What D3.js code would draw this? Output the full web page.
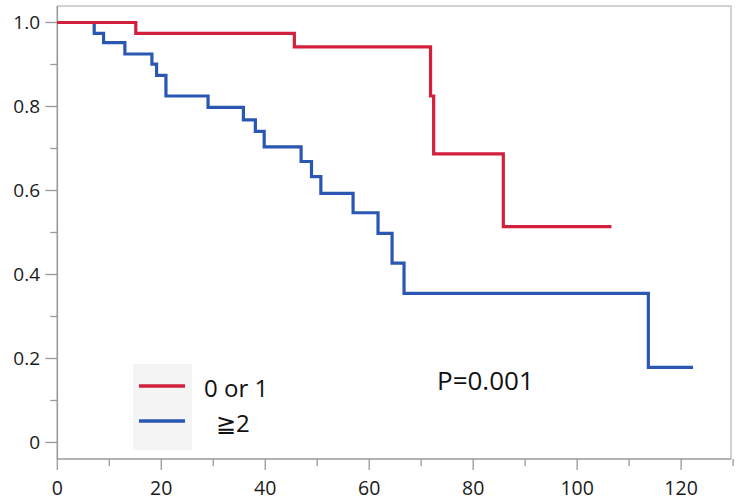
<!DOCTYPE html>
<html lang="en">
<head>
    <meta charset="UTF-8">
    <title>Survival curves</title>
    <style>
        body{margin:0;background:#fff;}
        svg{display:block;}
    </style>
    <script src="https://cdn.jsdelivr.net/npm/d3@7"></script>
</head>
<body>
<script>
    // step curve data
    const redTimes = [0, 15.1, 45.6, 71.8, 72.4, 85.8, 106.6]
    const redSurv  = [1, 0.974, 0.942, 0.825, 0.687, 0.514, 0.514]

    const blueTimes = [0, 7.1, 8.9, 13.0, 18.2, 19.1, 20.9, 29.0, 35.8, 38.1, 39.8, 46.9, 48.9, 50.7, 56.9, 61.7, 64.4, 66.7, 113.7, 122.3]
    const blueSurv  = [1, 0.974, 0.952, 0.925, 0.901, 0.874, 0.825, 0.798, 0.768, 0.741, 0.704, 0.669, 0.633, 0.593, 0.547, 0.498, 0.427, 0.355, 0.179, 0.179]

    const groupNames = ["0 or 1", "\u22672"]
    const groupColors = ["#d21f3c", "#2a57b2"]

    const xTicks = [0, 10, 20, 30, 40, 50, 60, 70, 80, 90, 100, 110, 120, 130]
    const yTicks = [0, 0.1, 0.2, 0.3, 0.4, 0.5, 0.6, 0.7, 0.8, 0.9, 1.0]
    const pText = "P=0.001"

    const width = 738, height = 502
    const mLeft = 57.3, mRight = 731, mTop = 6, mBottom = 459

    let svg = d3.select("body").append("svg")
        .attr("width", width).attr("height", height)

    let x = d3.scaleLinear().domain([0, 129.6]).range([mLeft, mRight])
    let y = d3.scaleLinear().domain([-0.0393, 1.0393]).range([mBottom, mTop])

    // frame top / right
    svg.append("path")
        .attr("d", `M${mLeft},${mTop}H${mRight}V${mBottom}`)
        .attr("fill", "none").attr("stroke", "#c4c4c4").attr("stroke-width", 1.5)

    // y axis
    let gy = svg.append("g")
    gy.selectAll("line").data(yTicks).enter().append("line")
        .attr("x1", (d, i) => i % 2 == 0 ? mLeft - 12 : mLeft - 7)
        .attr("x2", mLeft)
        .attr("y1", d => y(d)).attr("y2", d => y(d))
        .attr("stroke", "#9a9a9a").attr("stroke-width", 1.3)
    gy.selectAll("text").data(yTicks.filter((d, i) => i % 2 == 0)).enter().append("text")
        .attr("x", 40).attr("y", d => y(d) + 6.5)
        .attr("text-anchor", "end")
        .style("font-family", "'Open Sans', sans-serif").style("font-size", "19px")
        .attr("fill", "#1a1a1a")
        .text(d => d === 0 ? "0" : d.toFixed(1))

    // x axis
    let gx = svg.append("g")
    gx.selectAll("line").data(xTicks).enter().append("line")
        .attr("x1", d => x(d)).attr("x2", d => x(d))
        .attr("y1", mBottom)
        .attr("y2", d => d % 20 == 0 ? mBottom + 11 : mBottom + 7)
        .attr("stroke", "#9a9a9a").attr("stroke-width", 1.3)
    gx.selectAll("text").data(xTicks.filter(d => d % 20 == 0 && d <= 120)).enter().append("text")
        .attr("x", d => x(d)).attr("y", 495)
        .attr("text-anchor", "middle")
        .style("font-family", "'Open Sans', sans-serif").style("font-size", "19.5px")
        .attr("fill", "#1a1a1a")
        .text(d => d)

    svg.append("path")
        .attr("d", `M${mLeft},${mTop}V${mBottom}H${mRight}`)
        .attr("fill", "none").attr("stroke", "#9a9a9a").attr("stroke-width", 1.6)

    // curves
    let line = d3.line()
        .x(d => x(d[0])).y(d => y(d[1]))
        .curve(d3.curveStepAfter)

    const series = [d3.zip(redTimes, redSurv), d3.zip(blueTimes, blueSurv)]

    svg.selectAll(".curve").data(series.slice().reverse()).enter().append("path")
        .attr("class", "curve")
        .attr("d", line)
        .attr("fill", "none")
        .attr("stroke", (d, i) => groupColors[1 - i])
        .attr("stroke-width", 3.2)

    // legend
    let gLeg = svg.append("g")
    gLeg.append("rect")
        .attr("x", 133).attr("y", 364).attr("width", 59).attr("height", 86)
        .attr("fill", "#f4f4f4")
    groupNames.forEach((name, i) => {
        gLeg.append("line")
            .attr("x1", 139).attr("x2", 185)
            .attr("y1", 386 + i * 35).attr("y2", 386 + i * 35)
            .attr("stroke", groupColors[i]).attr("stroke-width", 3.5)
        gLeg.append("text")
            .attr("x", i == 0 ? 204 : 216).attr("y", 397 + i * 35)
            .style("font-family", "'Open Sans', sans-serif").style("font-size", "24px")
            .attr("fill", "#111")
            .text(name)
    })

    svg.append("text")
        .attr("x", 437).attr("y", 390)
        .style("font-family", "'Open Sans', sans-serif").style("font-size", "26px")
        .attr("fill", "#111")
        .text(pText)
</script>
</body>
</html>
